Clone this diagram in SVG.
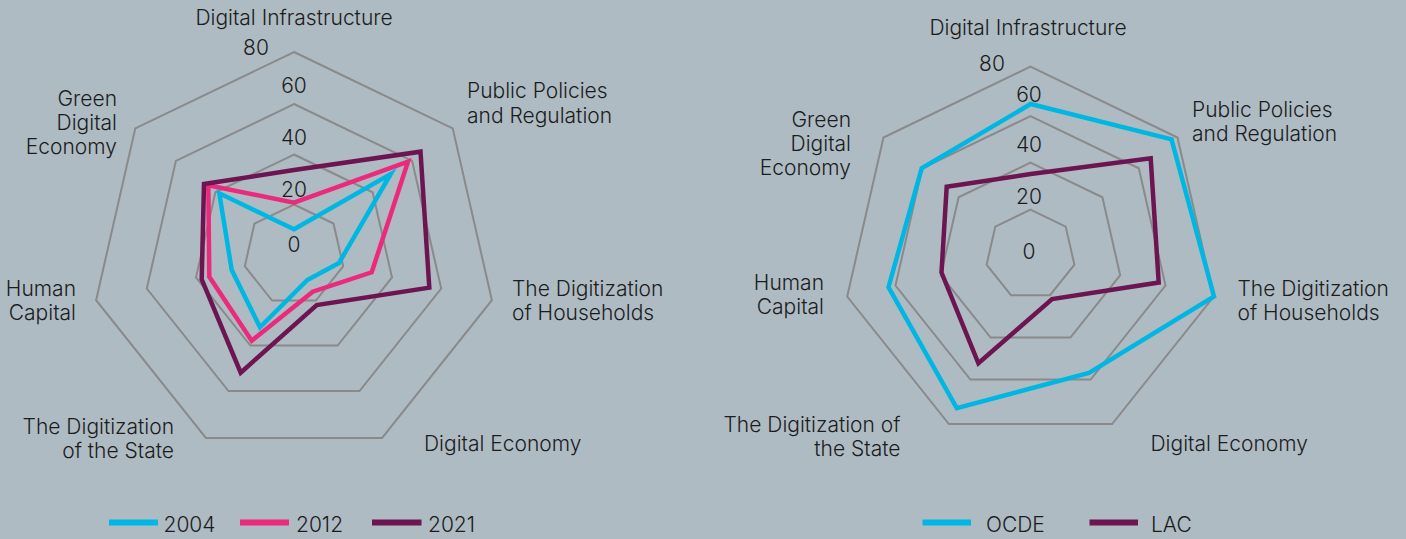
<svg xmlns="http://www.w3.org/2000/svg" width="1406" height="539" viewBox="0 0 1406 539">
<style>
.bg{fill:#aebbc3}
.grid{fill:none;stroke:#8a8a8a;stroke-width:2;stroke-linejoin:miter}
.s{fill:none;stroke-width:4.5;stroke-linejoin:miter;stroke-miterlimit:10}
.c{stroke:#00b7e3}
.p{stroke:#ec2a7c}
.m{stroke:#6d1550}
.leg{stroke-width:6;fill:none}
text{font-family:Inter,"Noto Sans","Liberation Sans",sans-serif;font-size:21px;font-weight:300;fill:#1c1c1c}
.e{text-anchor:end}
.mid{text-anchor:middle}
</style>
<rect class="bg" x="0" y="0" width="1406" height="539"/>

<g id="chart-left">
  <g id="left-grid">
    <polygon class="grid" points="294,52 452.7,128.4 491.9,300.2 382.1,437.9 205.9,437.9 96.1,300.2 135.3,128.4"/>
    <polygon class="grid" points="294,104 412.1,160.9 441.2,288.6 359.5,391.1 228.5,391.1 146.8,288.6 175.9,160.9"/>
    <polygon class="grid" points="294,154.5 372.6,192.3 392,277.4 337.6,345.6 250.4,345.6 196,277.4 215.4,192.3"/>
    <polygon class="grid" points="294,204.5 333.5,223.5 343.2,266.2 315.9,300.5 272.1,300.5 244.8,266.2 254.5,223.5"/>
  </g>
  <g id="left-ticks">
    <text x="256" y="55" class="mid">80</text>
    <text x="294" y="93" class="mid">60</text>
    <text x="294" y="145" class="mid">40</text>
    <text x="294" y="197" class="mid">20</text>
    <text x="294" y="252" class="mid">0</text>
  </g>
  <g id="left-series">
    <polygon class="s c" points="294,229.3 390.7,174 339,263 307.3,280 260,327.3 231.7,270 219.3,193.3"/>
    <polygon class="s p" points="294,202.7 408,161.7 371.7,272.3 312.7,291.7 251.7,340.7 209.3,276.7 208.3,185.3"/>
    <polygon class="s m" points="294,170 420.5,151.7 429.3,287.7 316.7,305 240.7,372.7 201.7,279.3 204,184"/>
  </g>
  <g id="left-labels">
    <text x="294" y="25" class="mid">Digital Infrastructure</text>
    <text x="467" y="98">Public Policies</text>
    <text x="467" y="122.5">and Regulation</text>
    <text x="512" y="296">The Digitization</text>
    <text x="512" y="320">of Households</text>
    <text x="424" y="450.5">Digital Economy</text>
    <text x="174" y="434" class="e">The Digitization</text>
    <text x="174" y="457.5" class="e">of the State</text>
    <text x="76" y="296" class="e">Human</text>
    <text x="76" y="320" class="e">Capital</text>
    <text x="117" y="106" class="e">Green</text>
    <text x="117" y="130" class="e">Digital</text>
    <text x="117" y="153.5" class="e">Economy</text>
  </g>
  <g id="left-legend">
    <line class="leg c" x1="109" y1="522.5" x2="158" y2="522.5"/>
    <text x="163.5" y="532">2004</text>
    <line class="leg p" x1="240" y1="522.5" x2="289" y2="522.5"/>
    <text x="296" y="532">2012</text>
    <line class="leg m" x1="372" y1="522.5" x2="421.5" y2="522.5"/>
    <text x="428" y="532">2021</text>
  </g>
</g>

<g id="chart-right">
  <g id="right-grid">
    <polygon class="grid" points="1030.5,66.7 1177.5,137.5 1213.8,296.5 1112.1,424.1 948.9,424.1 847.2,296.5 883.5,137.5"/>
    <polygon class="grid" points="1030.5,116.2 1138.8,168.3 1165.5,285.5 1090.6,379.5 970.4,379.5 895.5,285.5 922.2,168.3"/>
    <polygon class="grid" points="1030.5,162.7 1102.4,197.3 1120.2,275.2 1070.4,337.6 990.6,337.6 940.8,275.2 958.6,197.3"/>
    <polygon class="grid" points="1030.5,209.7 1065.7,226.6 1074.4,264.7 1050,295.2 1011,295.2 986.6,264.7 995.3,226.6"/>
  </g>
  <g id="right-ticks">
    <text x="992" y="71" class="mid">80</text>
    <text x="1029" y="102" class="mid">60</text>
    <text x="1029" y="152" class="mid">40</text>
    <text x="1029" y="203.5" class="mid">20</text>
    <text x="1029" y="259" class="mid">0</text>
  </g>
  <g id="right-series">
    <polygon class="s c" points="1030.7,104 1171.5,139.3 1214,296.5 1089,373 956.8,408.2 888.5,287.2 921.7,168.3"/>
    <polygon class="s m" points="1030.7,174 1150.7,158.3 1158.7,282.5 1052.1,299.1 978.4,363.3 941.5,272.5 946.7,186.7"/>
  </g>
  <g id="right-labels">
    <text x="1028" y="34.5" class="mid">Digital Infrastructure</text>
    <text x="1192" y="116.5">Public Policies</text>
    <text x="1192" y="140.5">and Regulation</text>
    <text x="1237.5" y="296">The Digitization</text>
    <text x="1237.5" y="320">of Households</text>
    <text x="1150.5" y="450.5">Digital Economy</text>
    <text x="900.5" y="432" class="e">The Digitization of</text>
    <text x="900.5" y="455.5" class="e">the State</text>
    <text x="824" y="290" class="e">Human</text>
    <text x="824" y="313.5" class="e">Capital</text>
    <text x="851" y="127" class="e">Green</text>
    <text x="851" y="151" class="e">Digital</text>
    <text x="851" y="175" class="e">Economy</text>
  </g>
  <g id="right-legend">
    <line class="leg c" x1="922.5" y1="522.5" x2="971" y2="522.5"/>
    <text x="986" y="532">OCDE</text>
    <line class="leg m" x1="1089.5" y1="522.5" x2="1138" y2="522.5"/>
    <text x="1151" y="532">LAC</text>
  </g>
</g>
</svg>
